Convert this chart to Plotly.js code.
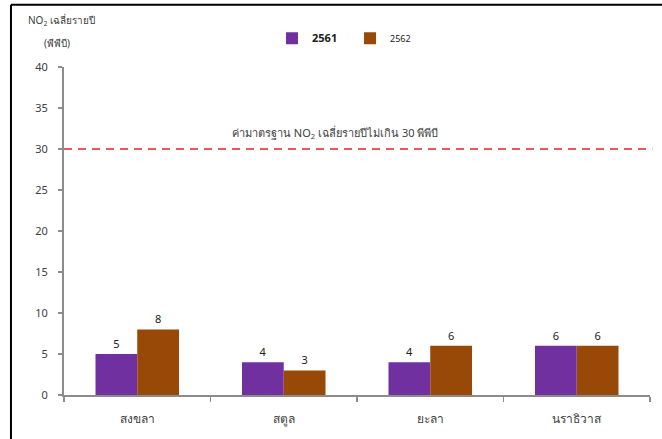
<!DOCTYPE html>
<html>
<head>
<meta charset="utf-8">
<script src="https://cdn.plot.ly/plotly-3.0.1.min.js"></script>
<style>
html,body{margin:0;padding:0;background:#fff;}
#chart{width:662px;height:439px;}
</style>
</head>
<body>
<div id="chart"></div>
<script>
const provinces = ["สงขลา", "สตูล", "ยะลา", "นราธิวาส"];
const years = ["2561", "2562"];
const values2561 = [5, 4, 4, 6];
const values2562 = [8, 3, 6, 6];
const standardValue = 30;
const standardLabel = "ค่ามาตรฐาน NO<sub>2</sub> เฉลี่ยรายปีไม่เกิน 30 พีพีบี";
const yTitleLine1 = "NO<sub>2</sub> เฉลี่ยรายปี";
const yTitleLine2 = "(พีพีบี)";

const FONT = "Tahoma, 'Noto Sans', 'DejaVu Sans', sans-serif";
const txt = "#404040";

const traces = [
  {
    type: "bar", x: provinces, y: values2561, name: "<b>" + years[0] + "</b>",
    marker: {color: "#7030A0"},
    text: values2561.map(String), textposition: "outside",
    textfont: {size: 11, color: "#202020", family: FONT},
    cliponaxis: false
  },
  {
    type: "bar", x: provinces, y: values2562, name: '<span style="font-size:9px">' + years[1] + "</span>",
    marker: {color: "#984807"},
    text: values2562.map(String), textposition: "outside",
    textfont: {size: 11, color: "#202020", family: FONT},
    cliponaxis: false
  }
];

const layout = {
  width: 662, height: 439,
  margin: {l: 64, r: 12, t: 67, b: 44, autoexpand: false},
  paper_bgcolor: "#fff", plot_bgcolor: "#fff",
  font: {family: FONT, color: txt, size: 11},
  barmode: "group", bargap: 0.43, bargroupgap: 0,
  showlegend: true,
  legend: {orientation: "h", x: 0.355, xanchor: "left", y: 1.088, yanchor: "middle",
           font: {size: 11, color: "#202020"}, traceorder: "normal", itemwidth: 30,
           entrywidth: 33},
  xaxis: {
    showline: true, linecolor: "#8c8c8c", linewidth: 2,
    ticks: "outside", tickson: "boundaries", ticklen: 5, tickcolor: "#8c8c8c", tickwidth: 1.5,
    tickfont: {size: 12, color: txt}, ticklabelstandoff: 12,
    showgrid: false, zeroline: false, fixedrange: true
  },
  yaxis: {
    range: [0, 40], dtick: 5, tick0: 0,
    showline: true, linecolor: "#8c8c8c", linewidth: 2,
    ticks: "outside", ticklen: 4, tickcolor: "#8c8c8c", tickwidth: 1.5,
    tickfont: {size: 11, color: txt}, ticklabelstandoff: 8,
    showgrid: false, zeroline: false, fixedrange: true
  },
  shapes: [
    {type: "line", xref: "paper", yref: "y", x0: 0, x1: 1.004, y0: standardValue, y1: standardValue,
     line: {color: "#d9262c", width: 1.5, dash: "8px,6px"}},
    {type: "line", xref: "paper", yref: "paper", x0: -0.0905, x1: -0.0905, y0: -0.2, y1: 1.19,
     line: {color: "#000", width: 2}},
    {type: "line", xref: "paper", yref: "paper", x0: -0.0905, x1: 1.03, y0: 1.19, y1: 1.19,
     line: {color: "#000", width: 2}}
  ],
  annotations: [
    {xref: "paper", yref: "y", x: 0.4625, y: 32, text: standardLabel, showarrow: false,
     font: {size: 11, color: txt}, xanchor: "center", yanchor: "middle"},
    {xref: "paper", yref: "paper", x: -0.065, y: 1.143, text: yTitleLine1, showarrow: false,
     font: {size: 10, color: txt}, xanchor: "left", yanchor: "middle"},
    {xref: "paper", yref: "paper", x: -0.038, y: 1.073, text: yTitleLine2, showarrow: false,
     font: {size: 10, color: txt}, xanchor: "left", yanchor: "middle"}
  ]
};

Plotly.newPlot("chart", traces, layout, {displayModeBar: false, staticPlot: true});
</script>
</body>
</html>
